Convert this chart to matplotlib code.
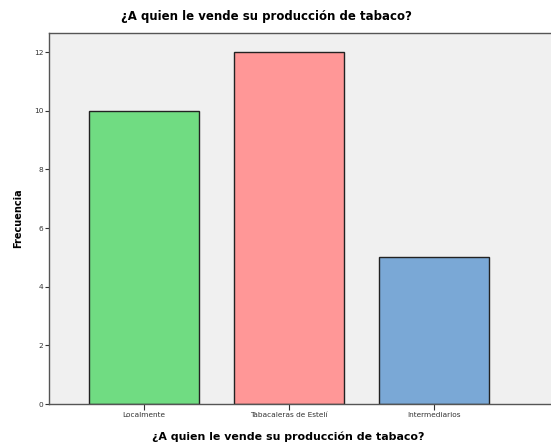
import matplotlib.pyplot as plt

# Frecuencias por destino de venta del tabaco
categorias = ["Localmente", "Tabacaleras de Estelí", "Intermediarios"]
frecuencias = [10, 12, 5]
colores = ["#70DC82", "#FF9797", "#7AA8D6"]


def graficar_ventas():
    """Dibuja el gráfico de barras de frecuencias por comprador."""
    fig = plt.figure(figsize=(5.51, 4.47), dpi=100)
    ax = fig.add_axes([0.089, 0.096, 0.911, 0.830])
    ax.set_facecolor("#F0F0F0")

    posiciones = range(len(categorias))
    ax.bar(posiciones, frecuencias, width=0.76, color=colores,
           edgecolor="#222222", linewidth=1.0, zorder=2)

    ax.set_xticks(list(posiciones))
    ax.set_xticklabels(categorias, fontsize=5.3, color="#333333")
    ax.set_xlim(-0.655, 2.807)
    ax.set_ylim(0, 12.65)
    ax.set_yticks(range(0, 13, 2))
    ax.tick_params(axis="y", labelsize=5.3, length=3, width=0.8, colors="#333333", pad=1)
    ax.tick_params(axis="x", length=4, width=0.8, colors="#333333", pad=2)

    for lado in ["left", "bottom", "top"]:
        ax.spines[lado].set_color("#555555")
        ax.spines[lado].set_linewidth(1.0)
    ax.spines["right"].set_visible(False)

    ax.set_ylabel("Frecuencia", fontsize=7, fontweight="bold", labelpad=8)

    # Títulos centrados sobre el gráfico completo
    fig.text(0.483, 0.962, "¿A quien le vende su producción de tabaco?",
             fontsize=8.5, fontweight="bold", ha="center", va="center")
    fig.text(0.523, 0.022, "¿A quien le vende su producción de tabaco?",
             fontsize=7.9, fontweight="bold", ha="center", va="center")

    fig.savefig("out.png", dpi=100)


if __name__ == "__main__":
    graficar_ventas()
